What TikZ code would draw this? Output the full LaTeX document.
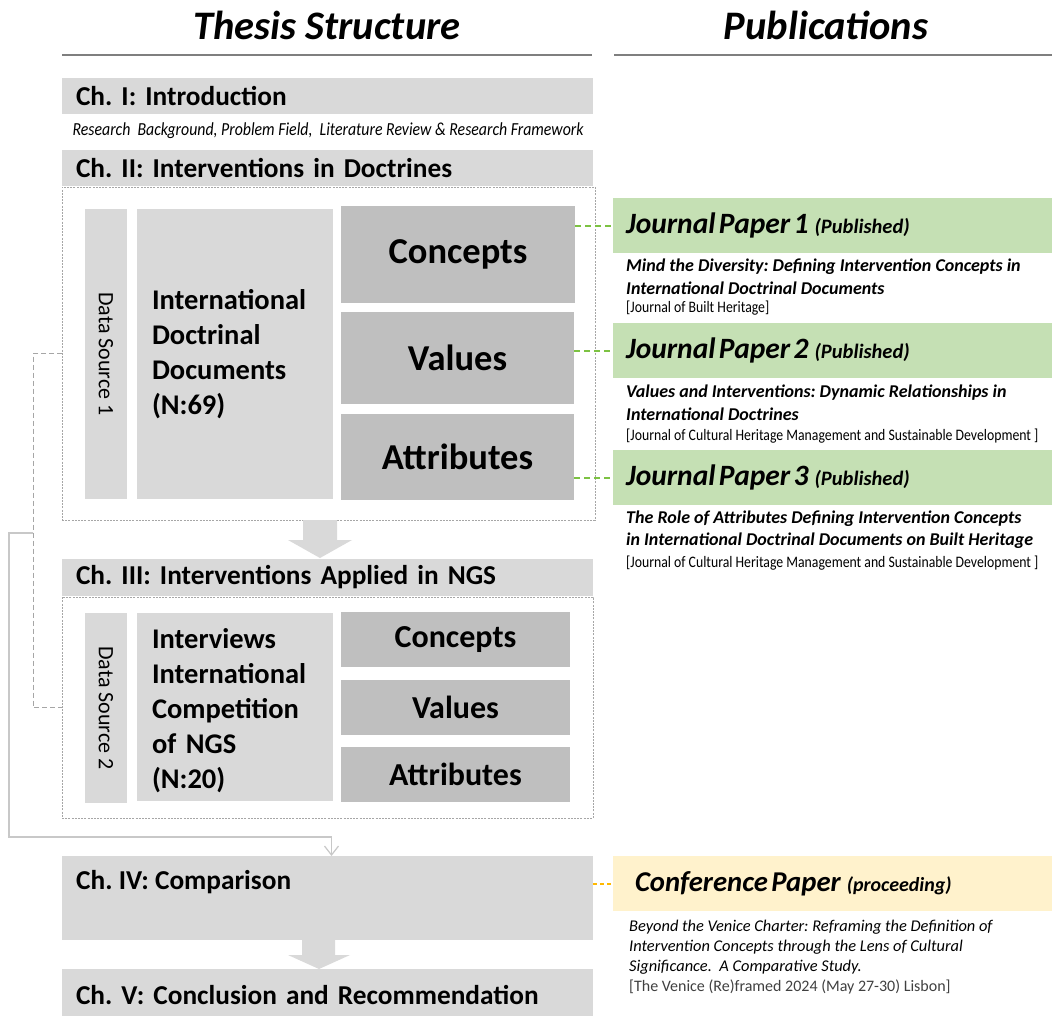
\documentclass[tikz,border=0pt]{standalone}
\usepackage{fontspec}
\setmainfont{Carlito}
\newfontfamily\narrowfont[FakeStretch=0.86]{Carlito}
\usetikzlibrary{arrows.meta,calc}

\definecolor{chapgray}{HTML}{D9D9D9}
\definecolor{boxgray}{HTML}{BFBFBF}
\definecolor{pubgreen}{HTML}{C5E0B4}
\definecolor{pubyellow}{HTML}{FFF2CC}
\definecolor{linkgreen}{HTML}{7CC242}
\definecolor{linkorange}{HTML}{FFB800}
\definecolor{framegray}{HTML}{A6A6A6}
\definecolor{rulegray}{HTML}{7F7F7F}
\definecolor{flowgray}{HTML}{C8C8C8}
\definecolor{notegray}{HTML}{404040}

\newcommand\fsz[1]{\fontsize{#1}{#1}\selectfont}
\frenchspacing

\begin{document}
\begin{tikzpicture}[x=1pt,y=-1pt,
  box/.style={rectangle, inner sep=0pt, outer sep=0pt, anchor=north west},
  chap/.style={box, fill=chapgray, minimum height=36pt, inner xsep=14pt,
    text width=503pt, align=left, font=\bfseries\fsz{27.3}},
  frame/.style={box, draw=framegray, line width=0.8pt, dash pattern=on 2pt off 1.2pt},
  dsbar/.style={box, fill=chapgray, minimum width=42pt},
  dstext/.style={rotate=-90, inner sep=0pt, font=\fsz{22}},
  srcbox/.style={box, fill=chapgray, minimum width=196pt, inner xsep=15pt,
    text width=166pt, align=left, font=\bfseries\fontsize{28.5}{35}\selectfont},
  catbox/.style={box, fill=boxgray, font=\bfseries},
  pubhead/.style={box, minimum width=439pt, minimum height=55pt, inner xsep=13pt,
    text width=413pt, align=left, font=\bfseries\itshape},
  publine/.style={anchor=west, inner sep=0pt, font=\bfseries\itshape\fsz{18}},
  jname/.style={anchor=west, inner sep=0pt, font=\narrowfont\fsz{16}},
  confline/.style={anchor=west, inner sep=0pt, font=\itshape\fsz{16.4}},
  titlerule/.style={draw=rulegray, line width=1.2pt},
  greenlink/.style={draw=linkgreen, line width=2pt, dash pattern=on 6pt off 4pt},
  orangelink/.style={draw=linkorange, line width=2pt, dash pattern=on 4pt off 3pt},
  sourcelink/.style={draw=framegray, line width=1pt, dash pattern=on 5pt off 3pt},
  flowlink/.style={draw=flowgray, line width=1.3pt},
]
\useasboundingbox (0,0) rectangle (1052,1015);
\fill[white] (0,0) rectangle (1052,1015);

% column titles
\node[font=\bfseries\itshape\fsz{40.5}] (thesis) at (327,25) {Thesis Structure};
\node[font=\bfseries\itshape\fsz{40.5}] (pubs) at (826,25) {Publications};
\draw[titlerule] (62,55) -- (592,55);
\draw[titlerule] (614,55) -- (1052,55);

% chapter I
\node[chap] (ch1) at (62,78) {Ch. I: Introduction};
\node[inner sep=0pt, font=\narrowfont\itshape\fsz{18.4}] (ch1sub) at (328,131)
  {Research\ \ Background, Problem Field,\ \ Literature Review \& Research Framework};

% chapter II
\node[chap] (ch2) at (62,150) {Ch. II: Interventions in Doctrines};
\node[frame, minimum width=533pt, minimum height=333pt] (box2) at (62,187) {};
\node[dsbar, minimum height=290pt] (ds1) at (85,209) {};
\node[dstext] (ds1t) at (ds1.center) {Data Source 1};
\node[srcbox, minimum height=290pt] (idd) at (137,209)
  {International\\Doctrinal\\Documents\\(N:69)};
\node[catbox, minimum width=234pt, minimum height=97pt, font=\bfseries\fsz{36.5}] (con1) at (341,206) {Concepts};
\node[catbox, minimum width=233pt, minimum height=92pt, font=\bfseries\fsz{36.5}] (val1) at (341,312) {Values};
\node[catbox, minimum width=233pt, minimum height=86pt, font=\bfseries\fsz{36.5}] (att1) at (341,414) {Attributes};

% arrow II -> III
\fill[chapgray] (303,520) -- (337,520) -- (337,540) -- (352,540) -- (320,558)
  -- (288,540) -- (303,540) -- cycle;

% chapter III
\node[chap, minimum height=37pt] (ch3) at (62,559) {Ch. III: Interventions Applied in NGS};
\node[frame, minimum width=531pt, minimum height=221pt] (box3) at (62,597) {};
\node[dsbar, minimum height=190pt] (ds2) at (85,613) {};
\node[dstext] (ds2t) at (ds2.center) {Data Source 2};
\node[srcbox, minimum height=188pt] (intv) at (137,613)
  {\rule{0pt}{27pt}Interviews\\International\\Competition\\of NGS\\(N:20)};
\node[catbox, minimum width=229pt, minimum height=55pt, font=\bfseries\fsz{32}] (con2) at (341,612) {Concepts};
\node[catbox, minimum width=229pt, minimum height=55pt, font=\bfseries\fsz{32}] (val2) at (341,680) {Values};
\node[catbox, minimum width=229pt, minimum height=55pt, font=\bfseries\fsz{32}] (att2) at (341,747) {Attributes};

% chapter IV and V
\node[box, fill=chapgray, minimum width=531pt, minimum height=84pt] (ch4) at (62,856) {};
\node[anchor=west, inner sep=0pt, font=\bfseries\fsz{27.3}] (ch4t) at (76,882) {Ch. IV: Comparison};
\fill[chapgray] (302,940) -- (335,940) -- (335,955) -- (350,955) -- (319,969)
  -- (288,955) -- (302,955) -- cycle;
\node[chap, text width=503pt, minimum height=52pt] (ch5) at (62,969) {Ch. V: Conclusion and Recommendation};

% data source links
\coordinate (split) at (33,533);
\draw[sourcelink] (box2.west) -- ++(-29,0) |- (box3.west);
\draw[flowlink, -{Straight Barb[length=9pt,width=14pt,line width=1.2pt]}]
  (split) -- (9,533) |- ($(ch4.north)+(4,-19)$) -- ($(ch4.north)+(4,0)$);

% publications
\node[pubhead, fill=pubgreen] (jp1) at (613,198)
  {{\fsz{29.5}Journal Paper 1}\hspace{6pt}{\fsz{20.5}(Published)}};
\node[publine] (jp1a) at (626,267) {Mind the Diversity: Defining Intervention Concepts in};
\node[publine] (jp1b) at (626,288) {International Doctrinal Documents};
\node[jname] (jp1c) at (626,308) {[Journal of Built Heritage]};

\node[pubhead, fill=pubgreen] (jp2) at (613,323)
  {{\fsz{29.5}Journal Paper 2}\hspace{6pt}{\fsz{20.5}(Published)}};
\node[publine] (jp2a) at (626,393) {Values and Interventions: Dynamic Relationships in};
\node[publine] (jp2b) at (626,414) {International Doctrines};
\node[jname] (jp2c) at (626,436) {[Journal of Cultural Heritage Management and Sustainable Development ]};

\node[pubhead, fill=pubgreen] (jp3) at (613,450)
  {{\fsz{29.5}Journal Paper 3}\hspace{6pt}{\fsz{20.5}(Published)}};
\node[publine] (jp3a) at (626,519) {The Role of Attributes Defining Intervention Concepts};
\node[publine] (jp3b) at (626,541) {in International Doctrinal Documents on Built Heritage};
\node[jname] (jp3c) at (626,563) {[Journal of Cultural Heritage Management and Sustainable Development ]};

\node[pubhead, fill=pubyellow, inner xsep=22pt, text width=395pt] (conf) at (613,856)
  {{\fsz{28.7}Conference Paper}\hspace{6pt}{\fsz{20}(proceeding)}};
\node[confline] (cfa) at (629,927) {Beyond the Venice Charter: Reframing the Definition of};
\node[confline] (cfb) at (629,947) {Intervention Concepts through the Lens of Cultural};
\node[confline] (cfc) at (629,967) {Significance.\ \ A Comparative Study.};
\node[anchor=west, inner sep=0pt, font=\fsz{16}, text=notegray] (cfd) at (629,987)
  {[The Venice (Re)framed 2024 (May 27-30) Lisbon]};

% chapter-to-publication links
\draw[greenlink] (con1.east |- jp1.west) -- (jp1.west);
\draw[greenlink] (val1.east |- jp2.west) -- (jp2.west);
\draw[greenlink] (att1.east |- jp3.west) -- (jp3.west);
\draw[orangelink] (ch4.east |- conf.west) -- (conf.west);
\end{tikzpicture}
\end{document}
